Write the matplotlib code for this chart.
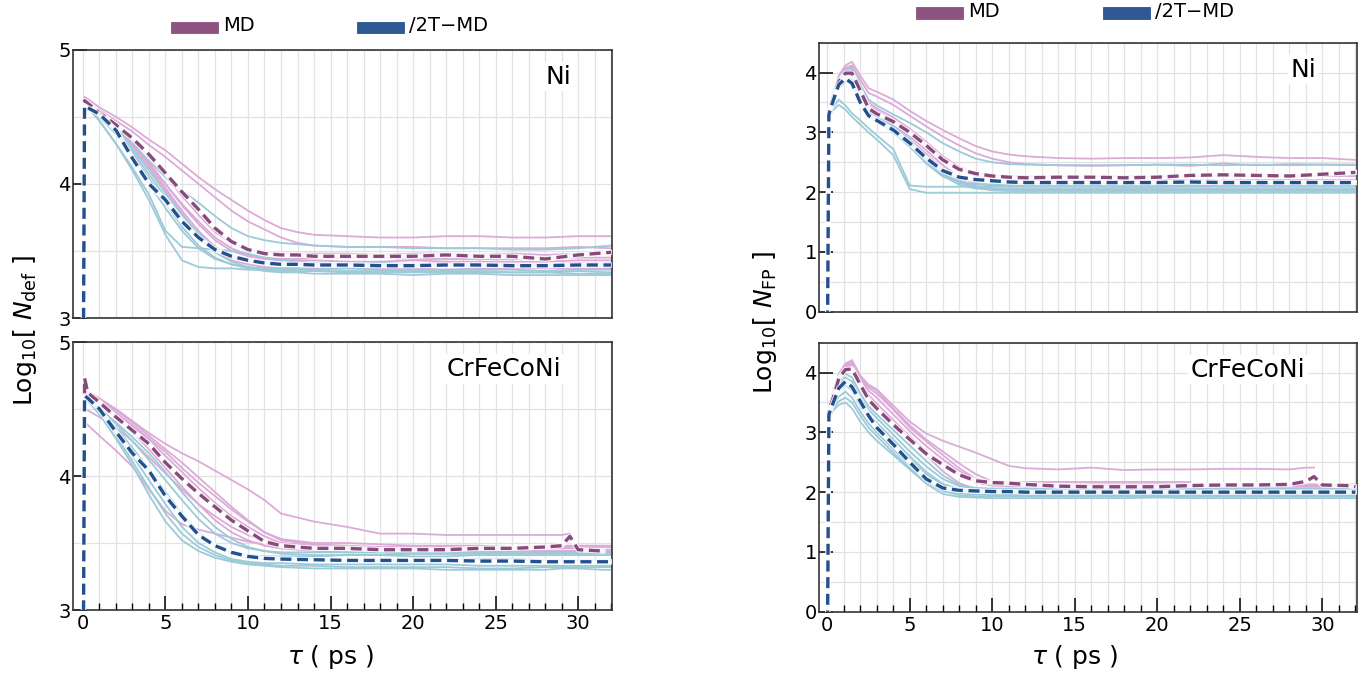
import numpy as np
import matplotlib
matplotlib.use("Agg")
import matplotlib.pyplot as plt
from matplotlib.patches import Rectangle

nan = np.nan

# ---------------- data: Ni, N_def ----------------
t_ni_def = [0, 0.1, 1, 2, 3, 4, 5, 6, 7, 8, 9, 10, 11, 12, 13, 14, 16, 18, 20, 22, 24, 26, 28, 30, 32]
md_mean_ni_def = [2.0, 4.62, 4.53, 4.44, 4.34, 4.22, 4.08, 3.94, 3.81, 3.67, 3.57, 3.51, 3.48, 3.47, 3.47,
                  3.46, 3.46, 3.46, 3.46, 3.47, 3.46, 3.46, 3.44, 3.47, 3.49]
tt_mean_ni_def = [2.0, 4.58, 4.52, 4.40, 4.19, 4.00, 3.88, 3.72, 3.60, 3.51, 3.46, 3.43, 3.41, 3.40, 3.40,
                  3.395, 3.395, 3.39, 3.39, 3.395, 3.395, 3.39, 3.39, 3.395, 3.395]
md_runs_ni_def = [
    [2.0, 4.65, 4.57, 4.50, 4.42, 4.33, 4.25, 4.15, 4.05, 3.96, 3.88, 3.80, 3.73, 3.67, 3.64, 3.62, 3.61, 3.60, 3.60, 3.61, 3.61, 3.60, 3.60, 3.61, 3.61],
    [2.0, 4.63, 4.55, 4.47, 4.39, 4.29, 4.20, 4.10, 4.00, 3.90, 3.80, 3.72, 3.66, 3.60, 3.56, 3.54, 3.53, 3.53, 3.53, 3.52, 3.52, 3.52, 3.52, 3.53, 3.52],
    [2.0, 4.62, 4.53, 4.44, 4.33, 4.20, 4.06, 3.91, 3.77, 3.64, 3.56, 3.51, 3.49, 3.48, 3.48, 3.48, 3.48, 3.47, 3.48, 3.48, 3.47, 3.48, 3.47, 3.48, 3.48],
    [2.0, 4.61, 4.52, 4.43, 4.31, 4.16, 4.00, 3.84, 3.70, 3.58, 3.50, 3.46, 3.44, 3.43, 3.43, 3.43, 3.42, 3.42, 3.43, 3.42, 3.42, 3.42, 3.42, 3.43, 3.43],
    [2.0, 4.62, 4.53, 4.43, 4.30, 4.14, 3.97, 3.80, 3.65, 3.53, 3.46, 3.43, 3.42, 3.41, 3.41, 3.40, 3.40, 3.40, 3.40, 3.41, 3.40, 3.40, 3.40, 3.41, 3.40],
    [2.0, 4.60, 4.51, 4.42, 4.30, 4.15, 4.00, 3.85, 3.72, 3.60, 3.52, 3.47, 3.45, 3.44, 3.44, 3.45, 3.45, 3.45, 3.44, 3.44, 3.44, 3.44, 3.45, 3.45, 3.45],
    [2.0, 4.61, 4.52, 4.42, 4.28, 4.12, 3.95, 3.78, 3.62, 3.50, 3.43, 3.40, 3.38, 3.37, 3.37, 3.37, 3.37, 3.37, 3.37, 3.36, 3.37, 3.37, 3.37, 3.37, 3.37],
]
tt_runs_ni_def = [
    [2.0, 4.60, 4.47, 4.30, 4.12, 3.92, 3.65, 3.53, 3.52, 3.51, 3.50, 3.48, 3.45, 3.43, 3.42, 3.41, 3.40, 3.40, 3.39, 3.39, 3.39, 3.39, 3.39, 3.39, 3.39],
    [2.0, 4.60, 4.47, 4.30, 4.10, 3.88, 3.62, 3.43, 3.38, 3.37, 3.37, 3.36, 3.36, 3.36, 3.36, 3.35, 3.35, 3.35, 3.35, 3.35, 3.35, 3.34, 3.34, 3.35, 3.34],
    [2.0, 4.61, 4.52, 4.42, 4.30, 4.17, 4.05, 3.95, 3.86, 3.76, 3.67, 3.61, 3.58, 3.56, 3.55, 3.54, 3.53, 3.53, 3.52, 3.52, 3.52, 3.51, 3.51, 3.52, 3.54],
    [2.0, 4.60, 4.50, 4.38, 4.22, 4.04, 3.86, 3.68, 3.54, 3.45, 3.40, 3.37, 3.35, 3.34, 3.34, 3.33, 3.33, 3.33, 3.32, 3.33, 3.33, 3.32, 3.32, 3.32, 3.32],
    [2.0, 4.59, 4.50, 4.37, 4.20, 4.00, 3.82, 3.65, 3.52, 3.44, 3.40, 3.38, 3.37, 3.37, 3.37, 3.36, 3.37, 3.36, 3.36, 3.36, 3.36, 3.36, 3.35, 3.36, 3.36],
    [2.0, 4.60, 4.51, 4.39, 4.24, 4.07, 3.90, 3.74, 3.60, 3.49, 3.42, 3.38, 3.36, 3.35, 3.35, 3.35, 3.34, 3.34, 3.34, 3.34, 3.34, 3.34, 3.34, 3.33, 3.33],
    [2.0, 4.60, 4.51, 4.40, 4.26, 4.10, 3.93, 3.77, 3.63, 3.52, 3.45, 3.42, 3.41, 3.40, 3.40, 3.40, 3.40, 3.41, 3.40, 3.40, 3.40, 3.40, 3.40, 3.40, 3.41],
]

# ---------------- data: CrFeCoNi, N_def ----------------
t_hea_def = [0, 0.1, 0.3, 1, 2, 3, 4, 5, 6, 7, 8, 9, 10, 11, 12, 14, 16, 18, 20, 22, 24, 26, 28, 29, 29.5, 30, 31.5, 32]
md_mean_hea_def = [2.0, 4.73, 4.62, 4.55, 4.44, 4.34, 4.24, 4.10, 3.98, 3.87, 3.77, 3.67, 3.59, 3.51, 3.48,
                   3.46, 3.46, 3.45, 3.45, 3.45, 3.46, 3.46, 3.47, 3.48, 3.55, 3.45, 3.44, nan]
tt_mean_hea_def = [2.0, 4.60, 4.58, 4.50, 4.33, 4.17, 4.04, 3.85, 3.70, 3.56, 3.48, 3.43, 3.40, 3.385, 3.38,
                   3.375, 3.37, 3.37, 3.37, 3.37, 3.365, 3.365, 3.36, 3.36, 3.36, 3.36, 3.36, 3.36]
md_runs_hea_def = [
    [2.0, 4.65, 4.63, 4.58, 4.50, 4.41, 4.32, 4.24, 4.17, 4.11, 4.04, 3.97, 3.90, 3.82, 3.72, 3.66, 3.62, 3.57, 3.57, 3.56, 3.56, 3.56, 3.56, 3.56, 3.57, nan, nan, nan],
    [2.0, 4.63, 4.61, 4.56, 4.47, 4.38, 4.28, 4.18, 4.06, 3.95, 3.85, 3.75, 3.66, 3.58, 3.53, 3.50, 3.50, 3.49, 3.48, 3.48, 3.48, 3.47, 3.48, 3.48, 3.48, 3.48, 3.48, 3.48],
    [2.0, 4.62, 4.60, 4.54, 4.44, 4.33, 4.20, 4.06, 3.92, 3.79, 3.67, 3.58, 3.52, 3.48, 3.46, 3.44, 3.43, 3.43, 3.42, 3.42, 3.42, nan, nan, nan, nan, nan, nan, nan],
    [2.0, 4.40, 4.38, 4.30, 4.19, 4.07, 3.90, 3.74, 3.64, 3.60, 3.57, 3.54, 3.51, 3.49, 3.47, 3.46, 3.45, 3.45, 3.45, 3.44, 3.44, 3.44, 3.44, 3.44, 3.44, 3.44, 3.44, nan],
    [2.0, 4.50, 4.49, 4.44, 4.36, 4.26, 4.14, 4.02, 3.90, 3.79, 3.70, 3.62, 3.56, 3.52, 3.50, 3.48, 3.47, 3.46, 3.46, 3.46, 3.46, 3.46, 3.46, 3.46, 3.46, 3.46, 3.45, 3.45],
    [2.0, 4.62, 4.60, 4.55, 4.47, 4.37, 4.27, 4.15, 4.03, 3.91, 3.80, 3.70, 3.62, 3.55, 3.50, 3.47, 3.46, 3.45, 3.45, 3.44, 3.44, 3.44, 3.44, 3.44, 3.44, 3.44, 3.44, 3.44],
    [2.0, 4.64, 4.62, 4.57, 4.49, 4.40, 4.30, 4.20, 4.10, 3.99, 3.88, 3.77, 3.67, 3.58, 3.52, 3.49, 3.48, 3.47, 3.47, 3.47, 3.47, 3.47, 3.47, 3.47, 3.47, 3.47, 3.47, 3.47],
]
tt_runs_hea_def = [
    [2.0, 4.58, 4.56, 4.46, 4.28, 4.08, 3.86, 3.66, 3.52, 3.44, 3.39, 3.36, 3.34, 3.33, 3.32, 3.31, 3.31, 3.31, 3.31, 3.30, 3.30, 3.30, 3.30, 3.31, 3.31, 3.31, 3.30, 3.30],
    [2.0, 4.59, 4.57, 4.47, 4.30, 4.11, 3.91, 3.72, 3.57, 3.47, 3.41, 3.37, 3.35, 3.34, 3.33, 3.33, 3.32, 3.32, 3.32, 3.32, 3.31, 3.31, 3.32, 3.32, 3.32, 3.32, 3.32, 3.32],
    [2.0, 4.58, 4.56, 4.48, 4.32, 4.15, 3.97, 3.79, 3.62, 3.50, 3.43, 3.38, 3.36, 3.35, 3.35, 3.34, 3.34, 3.34, 3.34, 3.34, 3.33, 3.33, 3.33, 3.33, 3.33, 3.33, 3.33, 3.33],
    [2.0, 4.60, 4.58, 4.51, 4.39, 4.26, 4.12, 3.97, 3.82, 3.68, 3.57, 3.50, 3.46, 3.44, 3.43, 3.43, 3.43, 3.43, 3.43, 3.43, 3.43, 3.43, 3.43, 3.43, 3.43, 3.43, 3.43, 3.43],
    [2.0, 4.59, 4.57, 4.49, 4.35, 4.20, 4.04, 3.86, 3.70, 3.57, 3.48, 3.43, 3.41, 3.40, 3.40, 3.40, 3.41, 3.41, 3.40, 3.40, 3.41, 3.41, 3.41, 3.41, 3.41, 3.41, 3.41, 3.41],
    [2.0, 4.60, 4.58, 4.50, 4.36, 4.21, 4.05, 3.88, 3.72, 3.58, 3.48, 3.42, 3.39, 3.38, 3.38, 3.38, 3.37, 3.37, 3.37, 3.38, 3.38, 3.38, 3.37, 3.37, 3.37, 3.37, 3.37, 3.37],
    [2.0, 4.58, 4.56, 4.50, 4.40, 4.29, 4.17, 4.03, 3.88, 3.74, 3.62, 3.53, 3.47, 3.44, 3.42, 3.41, 3.41, 3.41, 3.42, 3.42, 3.42, 3.42, 3.42, 3.42, 3.42, 3.42, 3.42, 3.42],
]

# ---------------- data: Ni, N_FP ----------------
t_ni_fp = [0, 0.1, 0.3, 0.7, 1.1, 1.5, 2, 2.5, 3, 4, 5, 6, 7, 8, 9, 10, 11, 12, 14, 16, 18, 20, 22, 24, 26, 28, 30, 32]
md_mean_ni_fp = [-1.0, 3.35, 3.52, 3.85, 3.99, 3.99, 3.70, 3.40, 3.31, 3.18, 3.00, 2.78, 2.54, 2.38, 2.31, 2.27,
                 2.25, 2.24, 2.25, 2.25, 2.24, 2.25, 2.28, 2.29, 2.28, 2.27, 2.30, 2.33]
tt_mean_ni_fp = [-1.0, 3.30, 3.48, 3.80, 3.90, 3.82, 3.50, 3.28, 3.20, 3.04, 2.82, 2.57, 2.36, 2.25, 2.21, 2.19,
                 2.17, 2.16, 2.16, 2.16, 2.16, 2.16, 2.17, 2.16, 2.16, 2.16, 2.16, 2.16]
md_runs_ni_fp = [
    [-1.0, 3.40, 3.60, 3.95, 4.12, 4.18, 3.95, 3.74, 3.68, 3.55, 3.36, 3.19, 3.04, 2.90, 2.77, 2.68, 2.63, 2.60, 2.57, 2.56, 2.57, 2.57, 2.58, 2.62, 2.59, 2.57, 2.57, 2.54],
    [-1.0, 3.38, 3.58, 3.92, 4.08, 4.12, 3.88, 3.66, 3.60, 3.46, 3.28, 3.10, 2.93, 2.78, 2.65, 2.56, 2.50, 2.47, 2.45, 2.44, 2.45, 2.46, 2.44, 2.48, 2.45, 2.47, 2.46, 2.46],
    [-1.0, 3.35, 3.52, 3.85, 4.02, 4.05, 3.75, 3.45, 3.36, 3.20, 3.02, 2.80, 2.56, 2.38, 2.28, 2.23, 2.21, 2.20, 2.20, 2.19, 2.19, 2.20, 2.20, 2.19, 2.20, 2.20, 2.20, 2.20],
    [-1.0, 3.33, 3.50, 3.80, 3.95, 3.98, 3.65, 3.38, 3.28, 3.12, 2.93, 2.70, 2.45, 2.25, 2.15, 2.11, 2.10, 2.10, 2.10, 2.10, 2.09, 2.09, 2.10, 2.10, 2.10, 2.10, 2.10, 2.10],
    [-1.0, 3.32, 3.48, 3.78, 3.90, 3.88, 3.58, 3.35, 3.25, 3.08, 2.88, 2.64, 2.38, 2.20, 2.10, 2.06, 2.05, 2.05, 2.05, 2.05, 2.05, 2.05, 2.05, 2.05, 2.05, 2.05, 2.05, 2.05],
    [-1.0, 3.36, 3.54, 3.88, 4.05, 4.10, 3.80, 3.50, 3.40, 3.25, 3.06, 2.84, 2.60, 2.42, 2.32, 2.28, 2.27, 2.27, 2.26, 2.26, 2.27, 2.26, 2.26, 2.27, 2.26, 2.26, 2.27, 2.27],
    [-1.0, 3.30, 3.45, 3.75, 3.85, 3.82, 3.55, 3.32, 3.22, 3.05, 2.85, 2.62, 2.38, 2.18, 2.08, 2.03, 2.02, 2.02, 2.02, 2.02, 2.02, 2.02, 2.02, 2.02, 2.02, 2.02, 2.02, 2.02],
]
tt_runs_ni_fp = [
    [-1.0, 3.25, 3.40, 3.55, 3.45, 3.32, 3.20, 3.07, 2.95, 2.72, 2.11, 2.09, 2.09, 2.09, 2.09, 2.09, 2.09, 2.09, 2.09, 2.09, 2.09, 2.09, 2.09, 2.09, 2.09, 2.09, 2.09, 2.09],
    [-1.0, 3.22, 3.36, 3.46, 3.38, 3.26, 3.13, 3.00, 2.88, 2.62, 2.05, 1.99, 1.99, 1.99, 1.99, 1.99, 1.99, 1.99, 1.99, 1.99, 1.99, 1.99, 1.99, 1.99, 1.99, 1.99, 1.99, 1.99],
    [-1.0, 3.35, 3.55, 3.90, 4.05, 4.08, 3.80, 3.55, 3.45, 3.30, 3.16, 3.00, 2.82, 2.68, 2.56, 2.50, 2.47, 2.46, 2.45, 2.45, 2.45, 2.46, 2.46, 2.45, 2.46, 2.45, 2.46, 2.45],
    [-1.0, 3.30, 3.48, 3.82, 3.98, 4.02, 3.70, 3.40, 3.28, 3.10, 2.88, 2.60, 2.32, 2.15, 2.08, 2.06, 2.05, 2.05, 2.05, 2.05, 2.05, 2.05, 2.05, 2.05, 2.05, 2.05, 2.05, 2.05],
    [-1.0, 3.32, 3.50, 3.85, 4.00, 3.95, 3.62, 3.35, 3.24, 3.06, 2.84, 2.55, 2.28, 2.12, 2.06, 2.04, 2.03, 2.03, 2.03, 2.03, 2.03, 2.03, 2.03, 2.03, 2.03, 2.03, 2.03, 2.03],
    [-1.0, 3.30, 3.47, 3.78, 3.92, 3.86, 3.55, 3.30, 3.20, 3.03, 2.80, 2.52, 2.30, 2.18, 2.13, 2.12, 2.11, 2.11, 2.11, 2.11, 2.11, 2.11, 2.11, 2.11, 2.11, 2.11, 2.11, 2.11],
    [-1.0, 3.28, 3.45, 3.75, 3.88, 3.80, 3.50, 3.27, 3.18, 3.00, 2.76, 2.48, 2.26, 2.16, 2.13, 2.13, 2.13, 2.14, 2.14, 2.14, 2.14, 2.14, 2.14, 2.14, 2.14, 2.14, 2.14, 2.14],
]

# ---------------- data: CrFeCoNi, N_FP ----------------
t_hea_fp = [0, 0.1, 0.3, 0.7, 1.1, 1.5, 2, 2.5, 3, 4, 5, 6, 7, 8, 9, 10, 11, 12, 14, 16, 18, 20, 22, 24, 26, 28, 29, 29.5, 30, 31.5, 32]
md_mean_hea_fp = [-1.0, 3.40, 3.52, 3.90, 4.05, 4.06, 3.80, 3.55, 3.40, 3.13, 2.88, 2.64, 2.46, 2.29, 2.19, 2.16,
                  2.15, 2.13, 2.10, 2.09, 2.09, 2.09, 2.11, 2.12, 2.12, 2.13, 2.18, 2.26, 2.12, 2.11, 2.09]
tt_mean_hea_fp = [-1.0, 3.30, 3.45, 3.74, 3.85, 3.76, 3.52, 3.28, 3.08, 2.80, 2.50, 2.22, 2.07, 2.03, 2.02, 2.01,
                  2.01, 2.00, 2.00, 2.00, 2.00, 2.00, 2.00, 2.00, 2.00, 2.00, 2.00, 2.00, 2.00, 2.00, 2.00]
md_runs_hea_fp = [
    [-1.0, 3.42, 3.62, 3.98, 4.15, 4.21, 3.95, 3.80, 3.72, 3.45, 3.18, 2.98, 2.86, 2.76, 2.66, 2.55, 2.44, 2.40, 2.38, 2.41, 2.37, 2.38, 2.38, 2.39, 2.39, 2.38, 2.41, 2.41, nan, nan, nan],
    [-1.0, 3.40, 3.60, 3.95, 4.12, 4.17, 3.90, 3.70, 3.58, 3.30, 3.02, 2.77, 2.55, 2.35, 2.22, 2.18, 2.17, 2.17, 2.17, 2.17, 2.17, 2.17, 2.17, nan, nan, nan, nan, nan, nan, nan, nan],
    [-1.0, 3.38, 3.58, 3.92, 4.10, 4.14, 3.86, 3.62, 3.48, 3.20, 2.90, 2.62, 2.35, 2.15, 2.05, 2.02, 2.00, 1.99, 1.98, 1.98, nan, nan, nan, nan, nan, nan, nan, nan, nan, nan, nan],
    [-1.0, 3.40, 3.58, 3.93, 4.10, 4.12, 3.85, 3.62, 3.47, 3.20, 2.93, 2.68, 2.47, 2.28, 2.16, 2.11, 2.10, 2.10, 2.10, 2.10, 2.10, 2.10, 2.11, 2.12, 2.12, 2.12, 2.12, 2.12, 2.12, 2.12, 2.12],
    [-1.0, 3.42, 3.60, 3.96, 4.14, 4.18, 3.92, 3.75, 3.65, 3.38, 3.08, 2.85, 2.62, 2.40, 2.22, 2.13, 2.11, 2.10, 2.09, 2.09, 2.09, 2.09, 2.09, 2.09, 2.09, 2.09, 2.09, 2.09, 2.09, 2.09, 2.09],
    [-1.0, 3.38, 3.55, 3.88, 4.05, 4.08, 3.82, 3.60, 3.45, 3.17, 2.90, 2.66, 2.48, 2.30, 2.18, 2.13, 2.12, 2.12, 2.12, 2.13, 2.13, 2.13, 2.13, 2.13, 2.13, 2.13, 2.13, 2.13, 2.13, 2.13, 2.13],
    [-1.0, 3.40, 3.58, 3.94, 4.12, 4.16, 3.93, 3.78, 3.70, 3.40, 3.12, 2.88, 2.68, 2.48, 2.30, 2.18, 2.14, 2.13, 2.12, 2.12, 2.12, 2.12, 2.12, 2.12, 2.12, 2.12, 2.12, 2.12, 2.12, 2.12, 2.12],
]
tt_runs_hea_fp = [
    [-1.0, 3.20, 3.35, 3.46, 3.50, 3.40, 3.18, 3.00, 2.86, 2.62, 2.38, 2.14, 1.97, 1.92, 1.91, 1.90, 1.90, 1.90, 1.90, 1.90, 1.90, 1.91, 1.90, 1.90, 1.90, 1.90, 1.90, 1.90, 1.90, 1.90, 1.90],
    [-1.0, 3.22, 3.38, 3.52, 3.58, 3.50, 3.28, 3.08, 2.94, 2.66, 2.40, 2.18, 2.02, 1.95, 1.93, 1.93, 1.93, 1.93, 1.93, 1.93, 1.93, 1.93, 1.93, 1.93, 1.93, 1.93, 1.93, 1.93, 1.93, 1.93, 1.93],
    [-1.0, 3.25, 3.42, 3.60, 3.68, 3.58, 3.35, 3.15, 3.00, 2.72, 2.45, 2.22, 2.05, 1.98, 1.96, 1.95, 1.95, 1.95, 1.95, 1.95, 1.95, 1.95, 1.95, 1.95, 1.95, 1.95, 1.95, 1.95, 1.95, 1.95, 1.95],
    [-1.0, 3.28, 3.45, 3.70, 3.80, 3.70, 3.45, 3.25, 3.10, 2.82, 2.55, 2.30, 2.12, 2.03, 2.00, 1.98, 1.97, 1.97, 1.97, 1.97, 1.97, 1.97, 1.97, 1.97, 1.97, 1.97, 1.97, 1.97, 1.97, 1.97, 1.97],
    [-1.0, 3.30, 3.48, 3.80, 3.92, 3.85, 3.58, 3.38, 3.24, 2.96, 2.68, 2.43, 2.22, 2.10, 2.06, 2.05, 2.05, 2.05, 2.05, 2.05, 2.05, 2.05, 2.05, 2.05, 2.05, 2.05, 2.05, 2.05, 2.05, 2.05, 2.05],
    [-1.0, 3.30, 3.50, 3.85, 3.98, 3.92, 3.65, 3.44, 3.30, 3.04, 2.78, 2.52, 2.28, 2.12, 2.07, 2.06, 2.06, 2.06, 2.06, 2.06, 2.06, 2.06, 2.06, 2.06, 2.06, 2.06, 2.06, 2.06, 2.06, 2.06, 2.06],
    [-1.0, 3.28, 3.46, 3.75, 3.87, 3.78, 3.52, 3.30, 3.16, 2.88, 2.60, 2.34, 2.14, 2.05, 2.02, 2.01, 2.01, 2.01, 2.01, 2.01, 2.01, 2.01, 2.01, 2.01, 2.01, 2.01, 2.01, 2.01, 2.01, 2.01, 2.01],
]

panel_labels = ["Ni", "CrFeCoNi"]
legend_labels = ["MD", "/2T\u2212MD"]
ylabel_def = r"Log$_{10}$[ $N_{\rm def}$ ]"
ylabel_fp = r"Log$_{10}$[ $N_{\rm FP}$ ]"
xlabel = r"$\tau$ ( ps )"

# ---------------- styles ----------------
C_MD = "#874b7b"
C_TT = "#23508e"
C_MD_THIN = "#dcaad8"
C_TT_THIN = "#9ccad8"
GRID = "#e2e2e2"
SPINE = "#333333"

W, H = 1372, 677
fig = plt.figure(figsize=(W / 100, H / 100), dpi=100)


def px_axes(x0, x1, ytop, ybot):
    return fig.add_axes([x0 / W, 1 - ybot / H, (x1 - x0) / W, (ybot - ytop) / H])


ax_a = px_axes(73, 612, 49.7, 318)
ax_b = px_axes(73, 612, 342, 610)
ax_c = px_axes(819, 1357, 42.7, 311.7)
ax_d = px_axes(819, 1357, 342.7, 611.7)


def style(ax, xlim, ylim, yticks, show_x):
    ax.set_xlim(*xlim)
    ax.set_ylim(*ylim)
    ax.set_xticks(np.arange(0, 31, 5))
    ax.set_xticks(np.arange(0, 33, 1), minor=True)
    ax.set_yticks(yticks)
    ax.set_yticks(np.arange(ylim[0], ylim[1] + 0.01, 0.5), minor=True)
    ax.grid(True, which="both", color=GRID, lw=0.9)
    ax.set_axisbelow(True)
    for s in ax.spines.values():
        s.set_color(SPINE)
        s.set_linewidth(1.2)
    ax.tick_params(axis="y", which="major", direction="in", length=10, width=1.1,
                   labelsize=14, pad=1.5, colors="black")
    ax.tick_params(axis="y", which="minor", length=0)
    if show_x:
        ax.tick_params(axis="x", which="major", direction="in", length=10, width=1.1,
                       labelsize=14, pad=3)
        ax.tick_params(axis="x", which="minor", direction="in", length=5, width=1.0)
    else:
        ax.tick_params(axis="x", which="both", length=0, labelbottom=False)


def draw(ax, t, md_runs, tt_runs, md_mean, tt_mean):
    for r in md_runs:
        ax.plot(t, r, color=C_MD_THIN, lw=1.3, zorder=2)
    for r in tt_runs:
        ax.plot(t, r, color=C_TT_THIN, lw=1.3, zorder=2.1)
    for m, c, z in ((md_mean, C_MD, 3), (tt_mean, C_TT, 3.2)):
        ax.plot(t, m, color="white", lw=3.8, alpha=0.85, zorder=z)
        ax.plot(t, m, color=c, lw=2.4, ls=(0, (3.3, 1.7)), zorder=z + 0.1)


style(ax_a, (-0.6, 32.05), (3, 5), [3, 4, 5], False)
style(ax_b, (-0.6, 32.05), (3, 5), [3, 4, 5], True)
style(ax_c, (-0.5, 32.1), (0, 4.5), [0, 1, 2, 3, 4], False)
style(ax_d, (-0.5, 32.1), (0, 4.5), [0, 1, 2, 3, 4], True)

draw(ax_a, t_ni_def, md_runs_ni_def, tt_runs_ni_def, md_mean_ni_def, tt_mean_ni_def)
draw(ax_b, t_hea_def, md_runs_hea_def, tt_runs_hea_def, md_mean_hea_def, tt_mean_hea_def)
draw(ax_c, t_ni_fp, md_runs_ni_fp, tt_runs_ni_fp, md_mean_ni_fp, tt_mean_ni_fp)
draw(ax_d, t_hea_fp, md_runs_hea_fp, tt_runs_hea_fp, md_mean_hea_fp, tt_mean_hea_fp)

box = dict(facecolor="white", edgecolor="none", pad=2)
for ax, lab, xf in ((ax_a, panel_labels[0], 0.90), (ax_c, panel_labels[0], 0.90),
                    (ax_b, panel_labels[1], 0.80), (ax_d, panel_labels[1], 0.797)):
    ax.text(xf, 0.90, lab, transform=ax.transAxes, ha="center", va="center",
            fontsize=18, bbox=box, zorder=10)

# axis labels
fig.text(25 / W, 1 - 330 / H, ylabel_def, rotation=90, ha="center", va="center", fontsize=18)
fig.text(765 / W, 1 - 322 / H, ylabel_fp, rotation=90, ha="center", va="center", fontsize=18)
fig.text(331 / W, 1 - 657 / H, xlabel, ha="center", va="center", fontsize=18)
fig.text(1075 / W, 1 - 657 / H, xlabel, ha="center", va="center", fontsize=18)


# legends (patch + label) above each column
def legend_item(x0, ytop, color, label):
    fig.add_artist(Rectangle((x0 / W, 1 - (ytop + 11.5) / H), 47 / W, 11.5 / H,
                             transform=fig.transFigure, facecolor=color,
                             edgecolor=color, lw=0.6, alpha=0.95))
    fig.text((x0 + 52) / W, 1 - (ytop + 9.3) / H, label, fontsize=14,
             ha="left", va="baseline")


legend_item(171, 21.7, C_MD, legend_labels[0])
legend_item(357, 21.7, C_TT, legend_labels[1])
legend_item(916, 7.3, C_MD, legend_labels[0])
legend_item(1103, 7.3, C_TT, legend_labels[1])

fig.savefig("out.png", dpi=100)
